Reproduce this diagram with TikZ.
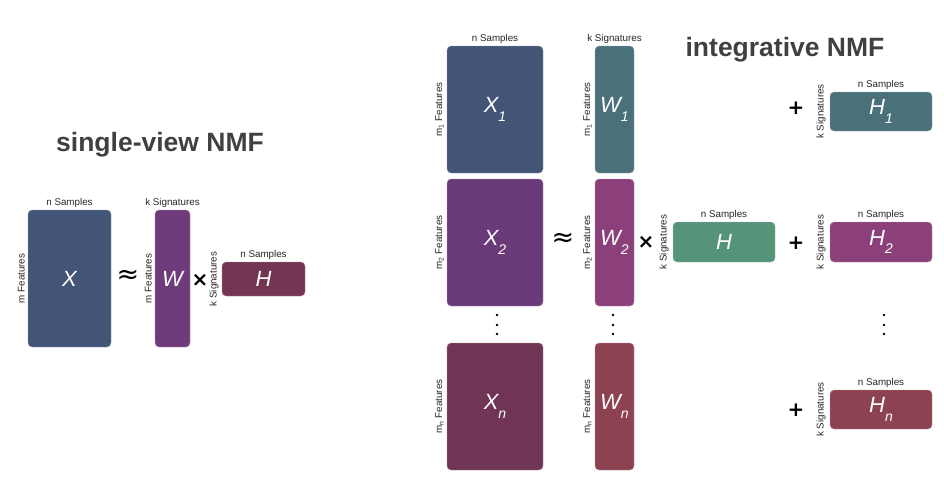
\documentclass[tikz,border=0pt]{standalone}
\usepackage{fontspec}
\setmainfont{Liberation Sans}
\newfontfamily\symfont{DejaVu Sans}
\usepackage{tikz}
\usetikzlibrary{positioning, calc}
\definecolor{xcolor}{RGB}{66,85,119}
\definecolor{wsingle}{RGB}{110,60,122}
\definecolor{hsingle}{RGB}{115,53,82}
\definecolor{viewone}{RGB}{74,112,122}
\definecolor{xtwo}{RGB}{107,58,121}
\definecolor{wtwo}{RGB}{139,64,122}
\definecolor{xlast}{RGB}{112,53,84}
\definecolor{wlast}{RGB}{140,66,80}
\definecolor{hshared}{RGB}{85,148,120}
\tikzset{
  matbox/.style={draw=#1!55!white, fill=#1, rounded corners=4pt, inner sep=0pt,
                 text=white, font=\fontsize{22}{22}\selectfont\itshape},
  dimlabel/.style={font=\fontsize{9.8}{10}\selectfont, text=black!85, inner sep=1pt},
  sidelabel/.style={dimlabel, rotate=90, anchor=south},
  opsym/.style={font=\symfont\bfseries\fontsize{20}{20}\selectfont, inner sep=0pt},
  approxsym/.style={font=\symfont\fontsize{27}{27}\selectfont, inner sep=0pt},
  title/.style={font=\fontsize{26.5}{26.5}\selectfont\bfseries, text=black!75},
}
\newcommand{\msub}[2]{#1\raisebox{-0.4em}{\fontsize{14}{14}\selectfont#2}}
\newcommand{\mfeat}[1]{m\textsubscript{#1} Features}

\begin{document}
\begin{tikzpicture}[x=1pt, y=-1pt]
  \useasboundingbox (0,0) rectangle (944,477);

  % Single-view NMF
  \node[title] (stitle) at (160,145) {single-view NMF};
  \node[matbox=xcolor, minimum width=83, minimum height=137] (X) at (69.5,278.5) {X};
  \node[matbox=wsingle, minimum width=35, minimum height=137] (W) at (172.5,278.5) {W};
  \node[matbox=hsingle, minimum width=83, minimum height=34] (H) at (263.5,279) {H};

  \node[dimlabel, above=1pt of X] (Xtop) {n Samples};
  \node[dimlabel, above=1pt of W] (Wtop) {k Signatures};
  \node[dimlabel, above=1pt of H] (Htop) {n Samples};
  \node[sidelabel] (Xside) at ($(X.west)+(-2,0)$) {m Features};
  \node[sidelabel] (Wside) at ($(W.west)+(-2,0)$) {m Features};
  \node[sidelabel] (Hside) at ($(H.west)+(-2,0)$) {k Signatures};

  \node[approxsym] (sapprox) at (128,277) {≈};
  \node[opsym] (stimes) at (200,280) {×};

  % Integrative NMF
  \node[title] (ititle) at (785,50) {integrative NMF};
  \node[matbox=xcolor, minimum width=96, minimum height=127] (X1) at (495,109.5) {\msub{X}{1}};
  \node[matbox=viewone, minimum width=39, minimum height=127] (W1) at (614.5,109.5) {\msub{W}{1}};
  \node[matbox=xtwo, minimum width=96, minimum height=127] (X2) at (495,242.5) {\msub{X}{2}};
  \node[matbox=wtwo, minimum width=39, minimum height=127] (W2) at (614.5,242.5) {\msub{W}{2}};
  \node[matbox=xlast, minimum width=96, minimum height=127] (Xn) at (495,406.5) {\msub{X}{n}};
  \node[matbox=wlast, minimum width=39, minimum height=127] (Wn) at (614.5,406.5) {\msub{W}{n}};
  \node[matbox=hshared, minimum width=102, minimum height=40] (Hs) at (724,242) {H};
  \node[matbox=viewone, minimum width=102, minimum height=39] (H1) at (881,111.5) {\msub{H}{1}};
  \node[matbox=wtwo, minimum width=102, minimum height=40] (H2) at (881,242) {\msub{H}{2}};
  \node[matbox=wlast, minimum width=102, minimum height=39] (Hn) at (881,409.5) {\msub{H}{n}};

  \node[dimlabel, above=1pt of X1] (X1top) {n Samples};
  \node[dimlabel, above=1pt of W1] (W1top) {k Signatures};
  \node[dimlabel, above=1pt of Hs] (Hstop) {n Samples};
  \node[dimlabel, above=1pt of H1] (H1top) {n Samples};
  \node[dimlabel, above=1pt of H2] (H2top) {n Samples};
  \node[dimlabel, above=1pt of Hn] (Hntop) {n Samples};

  \node[sidelabel] (X1side) at ($(X1.west)+(-2,0)$) {\mfeat{1}};
  \node[sidelabel] (W1side) at ($(W1.west)+(-2,0)$) {\mfeat{1}};
  \node[sidelabel] (X2side) at ($(X2.west)+(-2,0)$) {\mfeat{2}};
  \node[sidelabel] (W2side) at ($(W2.west)+(-2,0)$) {\mfeat{2}};
  \node[sidelabel] (Xnside) at ($(Xn.west)+(-2,0)$) {\mfeat{n}};
  \node[sidelabel] (Wnside) at ($(Wn.west)+(-2,0)$) {\mfeat{n}};
  \node[sidelabel] (Hsside) at ($(Hs.west)+(-3,0)$) {k Signatures};
  \node[sidelabel] (H1side) at ($(H1.west)+(-3,0)$) {k Signatures};
  \node[sidelabel] (H2side) at ($(H2.west)+(-3,0)$) {k Signatures};
  \node[sidelabel] (Hnside) at ($(Hn.west)+(-3,0)$) {k Signatures};

  \node[approxsym] (iapprox) at (563,240) {≈};
  \node[opsym] (itimes) at (646,242) {×};
  \node[opsym] (plusone) at (796,108) {+};
  \node[opsym] (plustwo) at (796,243) {+};
  \node[opsym] (plusn) at (796,410) {+};

  % vertical dots
  \foreach \x in {497,613,884}
    \foreach \y in {315,325,334}
      \fill (\x,\y) circle (1.4);
\end{tikzpicture}
\end{document}
